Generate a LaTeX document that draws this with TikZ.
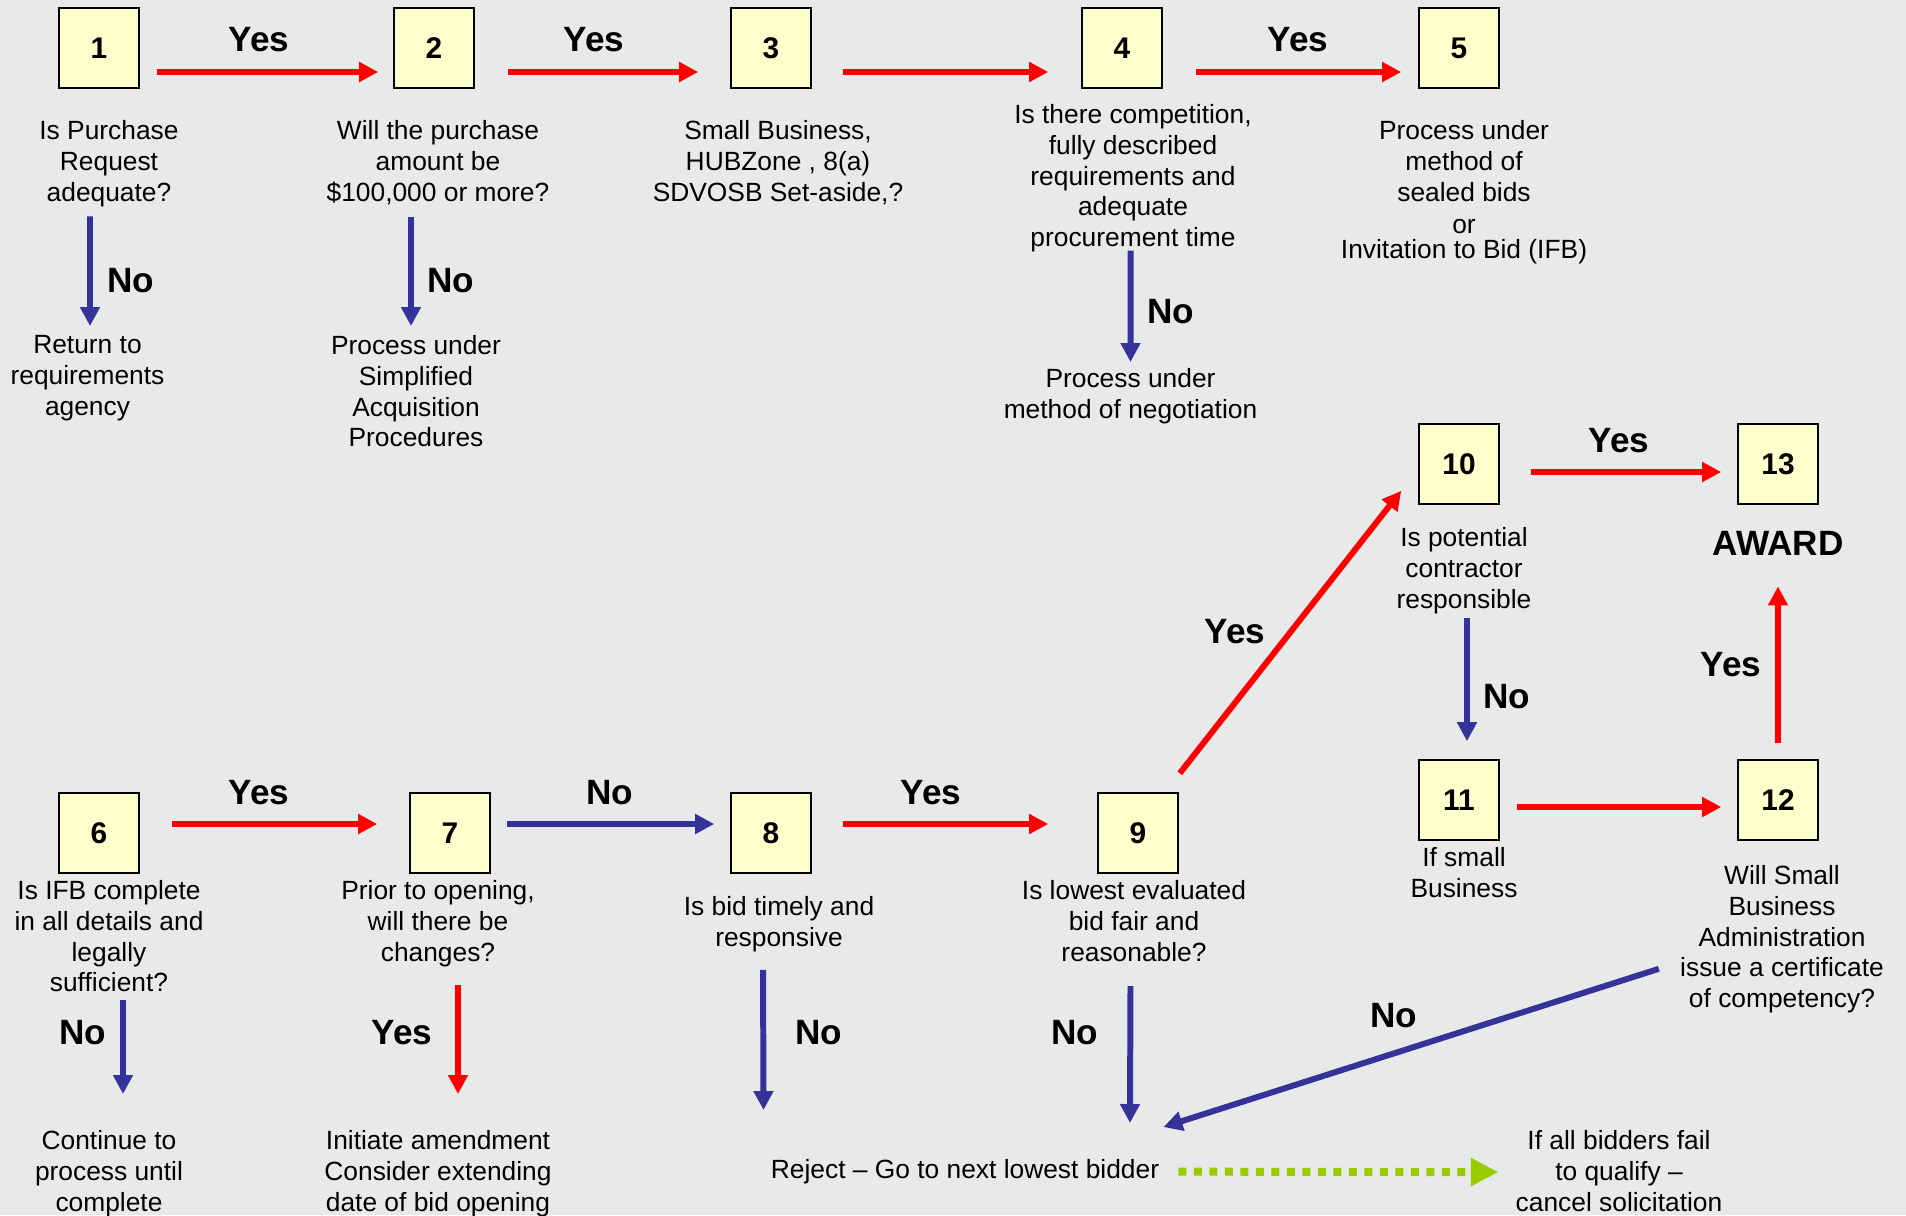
\documentclass[tikz,border=0pt]{standalone}
\usepackage{fontspec}
\setmainfont{Liberation Sans}
\usetikzlibrary{arrows.meta, calc}

\definecolor{yesred}{HTML}{FF0000}
\definecolor{noblue}{HTML}{333399}
\definecolor{failgreen}{HTML}{99CC00}
\definecolor{boxfill}{HTML}{FFFFCC}
\definecolor{camo}{HTML}{E8EAE9}

\begin{document}
\begin{tikzpicture}[x=0.02cm, y=-0.02cm]

    % Define styles
    \tikzset{
        numbox/.style = {rectangle, minimum size=1.6cm, draw=black, line width=0.9pt, fill=boxfill, font=\bfseries\fontsize{17}{20}\selectfont},
        question/.style = {anchor=north, align=center, inner sep=0pt, font=\fontsize{15}{17.4}\selectfont},
        answer/.style = {inner sep=0pt, font=\bfseries\fontsize{20}{24}\selectfont},
        yesarrow/.style = {draw=yesred, line width=3.4pt, -{Triangle[length=0.38cm, width=0.38cm]}},
        noarrow/.style = {draw=noblue, line width=3.4pt, -{Triangle[length=0.38cm, width=0.38cm]}},
        failarrow/.style = {draw=failgreen, line width=0.16cm, dash pattern=on 0.16cm off 0.15cm, -{Triangle[length=0.55cm, width=0.53cm]}}
    }

    % Background
    \useasboundingbox (0,0) rectangle (1906,1215);
    \fill [camo] (0,0) rectangle (1906,1215);

    % Boxes
    \node (b1) [numbox] at (99,48) {1};
    \node (b2) [numbox] at (434,48) {2};
    \node (b3) [numbox] at (771,48) {3};
    \node (b4) [numbox] at (1122,48) {4};
    \node (b5) [numbox] at (1459,48) {5};
    \node (b10) [numbox] at (1459,464) {10};
    \node (b13) [numbox] at (1778,464) {13};
    \node (b6) [numbox] at (99,833) {6};
    \node (b7) [numbox] at (450,833) {7};
    \node (b8) [numbox] at (771,833) {8};
    \node (b9) [numbox] at (1138,833) {9};
    \node (b11) [numbox] at (1459,800) {11};
    \node (b12) [numbox] at (1778,800) {12};

    % Texts
    \node (q1) [question] at (109,120.5) {Is Purchase\\Request\\adequate?};
    \node (q2) [question] at (438,120.5) {Will the purchase\\amount be\\\$100,000 or more?};
    \node (q3) [question] at (778,120.5) {Small Business,\\HUBZone , 8(a)\\SDVOSB Set-aside,?};
    \node (q4) [question] at (1133,104.5) {Is there competition,\\fully described\\requirements and\\adequate\\procurement time};
    \node (q5) [question] at (1464,120.5) {Process under\\method of\\sealed bids\\[1pt]or\\[-3.2pt]Invitation to Bid (IFB)};
    \node (r1) [question] at (87.5,335.5) {Return to\\requirements\\agency};
    \node (r2) [question] at (416,335.5) {Process under\\Simplified\\Acquisition\\Procedures};
    \node (r4) [question] at (1130.5,368.5) {Process under\\method of negotiation};
    \node (q10) [question] at (1464,527.5) {Is potential\\contractor\\responsible};
    \node (award) [answer] at (1778,543) {AWARD};
    \node (q11) [question] at (1464,847.5) {If small\\Business};
    \node (q12) [question] at (1782,865.5) {Will Small\\Business\\Administration\\issue a certificate\\of competency?};
    \node (q6) [question] at (109,880.5) {Is IFB complete\\in all details and\\legally\\sufficient?};
    \node (q7) [question] at (438,880.5) {Prior to opening,\\will there be\\changes?};
    \node (q8) [question] at (779,896.5) {Is bid timely and\\responsive};
    \node (q9) [question] at (1134,880.5) {Is lowest evaluated\\bid fair and\\reasonable?};
    \node (r6) [question] at (109,1130.5) {Continue to\\process until\\complete};
    \node (r7) [question] at (438,1130.5) {Initiate amendment\\Consider extending\\date of bid opening};
    \node (reject) [question] at (965,1159) {Reject – Go to next lowest bidder};
    \node (cancel) [question] at (1619,1130.5) {If all bidders fail\\to qualify –\\cancel solicitation};

    % Labels
    \node (y12) [answer] at (259,40) {Yes};
    \node (y23) [answer] at (594,40) {Yes};
    \node (y45) [answer] at (1298,40) {Yes};
    \node (n1) [answer] at (131,281) {No};
    \node (n2) [answer] at (451,281) {No};
    \node (n4) [answer] at (1171,312) {No};
    \node (y1013) [answer] at (1619,441) {Yes};
    \node (y910) [answer] at (1235,632) {Yes};
    \node (n1011) [answer] at (1507,697) {No};
    \node (y1213) [answer] at (1731,665) {Yes};
    \node (y67) [answer] at (259,793) {Yes};
    \node (n78) [answer] at (610,793) {No};
    \node (y89) [answer] at (931,793) {Yes};
    \node (n6) [answer] at (83,1033) {No};
    \node (y7) [answer] at (402,1033) {Yes};
    \node (n8) [answer] at (819,1033) {No};
    \node (n9) [answer] at (1075,1033) {No};
    \node (n12) [answer] at (1394,1016) {No};

    % Arrows
    \draw [yesarrow] ($(b1.east)+(17,24)$) -- ($(b2.west)+(-15,24)$);
    \draw [yesarrow] ($(b2.east)+(33,24)$) -- ($(b3.west)+(-32,24)$);
    \draw [yesarrow] ($(b3.east)+(31,24)$) -- ($(b4.west)+(-33,24)$);
    \draw [yesarrow] ($(b4.east)+(33,24)$) -- ($(b5.west)+(-17,24)$);
    \draw [noarrow] ($(q1.south)+(-19,9.5)$) -- ($(r1.north)+(2.5,-9.5)$);
    \draw [noarrow] ($(q2.south)+(-27,12.5)$) -- ($(r2.north)+(-5,-9.5)$);
    \draw [noarrow] ($(q4.south)+(-2.5,-1.5)$) -- ($(r4.north)+(0,-6.5)$);
    \draw [yesarrow] ($(b10.east)+(31,8)$) -- ($(b13.west)+(-16,8)$);
    \draw [noarrow] ($(q10.south)+(3,4.5)$) -- ($(b11.north)+(8,-18)$);
    \draw [yesarrow] ($(b12.north)+(0,-16)$) -- ($(award.south)+(0,31)$);
    \draw [yesarrow] ($(b9.north east)+(1,-19)$) -- ($(b10.south west)+(-17,-14)$);
    \draw [yesarrow] ($(b11.east)+(17,7)$) -- ($(b12.west)+(-16,7)$);
    \draw [noarrow] ($(q12.west)+(-21,29.5)$) -- ($(reject.north east)+(4,-32)$);
    \draw [yesarrow] ($(b6.east)+(32,-9)$) -- ($(b7.west)+(-32,-9)$);
    \draw [noarrow] ($(b7.east)+(16,-9)$) -- ($(b8.west)+(-16,-9)$);
    \draw [yesarrow] ($(b8.east)+(31,-9)$) -- ($(b9.west)+(-49,-9)$);
    \draw [noarrow] ($(q6.south)+(14,7.5)$) -- ($(r6.north)+(14,-36.5)$);
    \draw [yesarrow] ($(q7.south)+(20,18.5)$) -- ($(r7.north)+(20,-36.5)$);
    \draw [noarrow] ($(q8.south)+(-16,17.5)$) -- ($(reject.north west)+(-7,-49)$);
    \draw [noarrow] ($(q9.south)+(-3.5,24.5)$) -- ($(reject.north east)+(-29.5,-36)$);
    \draw [failarrow] ($(reject.east)+(19,0)$) -- ($(cancel.west)+(-17,1)$);

\end{tikzpicture}
\end{document}
